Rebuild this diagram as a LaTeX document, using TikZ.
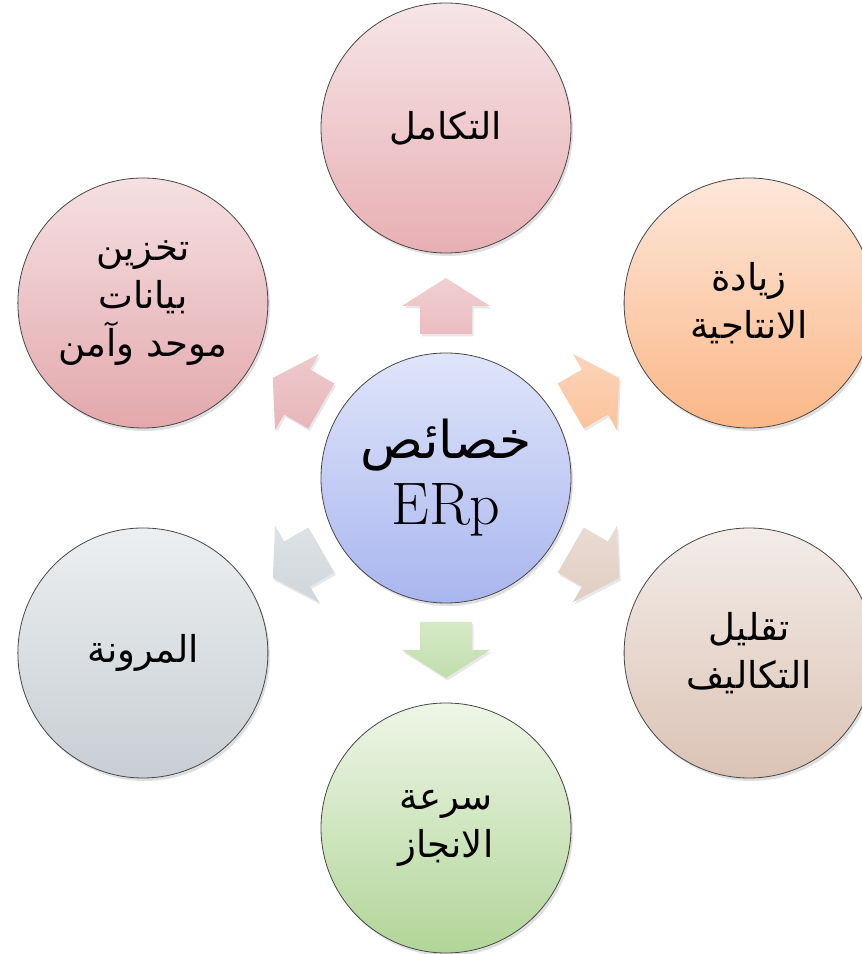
\documentclass[tikz,border=0pt]{standalone}
\usepackage{fontspec}
\usetikzlibrary{positioning, shadows}
\newfontfamily\arabicfont[Script=Arabic]{DejaVu Sans}
\TeXXeTstate=1
\newcommand\artext[1]{\beginR #1\endR}

\definecolor{coreA}{HTML}{DFE5FA}
\definecolor{coreB}{HTML}{A9B6EF}
\definecolor{integA}{HTML}{F6E5E7}
\definecolor{integB}{HTML}{E8AFB3}
\definecolor{prodA}{HTML}{FDE7DA}
\definecolor{prodB}{HTML}{FBB787}
\definecolor{costA}{HTML}{F3ECE8}
\definecolor{costB}{HTML}{DBC3B5}
\definecolor{speedA}{HTML}{EEF6E7}
\definecolor{speedB}{HTML}{B1D598}
\definecolor{flexA}{HTML}{ECEFF1}
\definecolor{flexB}{HTML}{C8CED3}
\definecolor{storeA}{HTML}{F5E0E2}
\definecolor{storeB}{HTML}{E3A8AC}

\tikzset{
  bubble/.style={circle, draw=black!72, line width=0.8pt, minimum size=250pt, inner sep=0pt,
    align=center, font=\arabicfont\fontsize{37}{48}\selectfont,
    drop shadow={opacity=0.25, shadow xshift=2pt, shadow yshift=-3pt}},
  blockarrow/.style={drop shadow={opacity=0.18, shadow xshift=1.5pt, shadow yshift=-2.5pt}}
}

\begin{document}
\begin{tikzpicture}[x=1pt, y=1pt]
  \useasboundingbox (0,0) rectangle (862,954);
  \clip (0,0) rectangle (862,954);

  % the six outer circles and the core
  \node[bubble, top color=coreA, bottom color=coreB, font=\fontsize{52}{66}\selectfont] (core) at (446,476)
    {{\arabicfont\artext{خصائص}}\\{\rmfamily\fontsize{60}{66}\selectfont ERp}};
  \node[bubble, top color=integA, bottom color=integB] (integ) at ([shift={(90:350)}]core) {\artext{التكامل}};
  \node[bubble, top color=prodA, bottom color=prodB]   (prod)  at ([shift={(30:350)}]core) {\artext{زيادة}\\\artext{الانتاجية}};
  \node[bubble, top color=costA, bottom color=costB]   (cost)  at ([shift={(-30:350)}]core) {\artext{تقليل}\\\artext{التكاليف}};
  \node[bubble, top color=speedA, bottom color=speedB] (speed) at ([shift={(-90:350)}]core) {\artext{سرعة}\\\artext{الانجاز}};
  \node[bubble, top color=flexA, bottom color=flexB]   (flex)  at ([shift={(-150:350)}]core) {\artext{المرونة}};
  \node[bubble, top color=storeA, bottom color=storeB] (store) at ([shift={(150:350)}]core) {\artext{تخزين}\\\artext{بيانات}\\\artext{موحد وآمن}};

  % block arrows pointing outwards
  \foreach \ang/\ca/\cb [count=\i] in {90/integA/integB, 30/prodA/prodB, -30/costA/costB,
      -90/speedA/speedB, -150/flexA/flexB, 150/storeA/storeB}{
    \coordinate (arr\i) at ([shift={(\ang:172)}]core);
    \begin{scope}[shift={(arr\i)}, rotate={\ang-90}]
      \path[blockarrow, top color=\ca!60!\cb, bottom color=\ca!25!\cb]
        (0,28) -- (44,0) -- (26,0) -- (26,-28) -- (-26,-28) -- (-26,0) -- (-44,0) -- cycle;
    \end{scope}
  }
\end{tikzpicture}
\end{document}
